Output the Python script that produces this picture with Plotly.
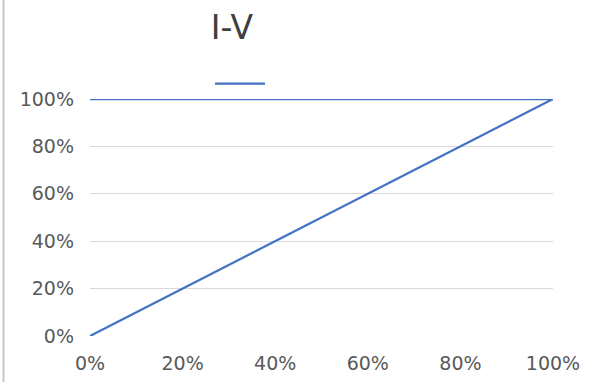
import plotly.graph_objects as go

# Data
x_vals = [0.0, 1.0, 0.0]
y_vals = [0.0, 1.0, 1.0]
series_name = " "
title_text = "I-V"
tick_vals = [0, 0.2, 0.4, 0.6, 0.8, 1.0]
tick_text = ["0%", "20%", "40%", "60%", "80%", "100%"]

W, H = 589, 382
ml, mr, mt, mb = 90, 36, 99, 46
pw, ph = W - ml - mr, H - mt - mb

fig = go.Figure()
fig.add_trace(go.Scatter(
    x=x_vals, y=y_vals, mode="lines", name=series_name,
    line=dict(color="#4472C4", width=2.25), showlegend=True,
))

font_family = "DejaVu Sans, sans-serif"
fig.update_layout(
    width=W, height=H, autosize=False,
    margin=dict(l=ml, r=mr, t=mt, b=mb, autoexpand=False),
    paper_bgcolor="white", plot_bgcolor="white",
    title=dict(text=title_text, x=232 / W, xanchor="center", y=1 - 27 / H, yanchor="middle",
               font=dict(family=font_family, size=33, color="#404040")),
    showlegend=True,
    legend=dict(orientation="h", x=(210 - ml) / pw, xanchor="left",
                y=1 + (99 - 84) / ph, yanchor="middle",
                itemwidth=50, bgcolor="rgba(0,0,0,0)",
                font=dict(family=font_family, size=14, color="#595959")),
    xaxis=dict(range=[0, 1], tickvals=tick_vals, ticktext=tick_text, showgrid=False,
               zeroline=False, showline=False, ticks="", ticklabelstandoff=14, automargin=False,
               tickfont=dict(family=font_family, size=19, color="#595959")),
    yaxis=dict(range=[0, 1], tickvals=tick_vals, ticktext=tick_text, showgrid=True,
               gridcolor="#D9D9D9", gridwidth=1, zeroline=False, showline=False, ticks="",
               ticklabelstandoff=15, automargin=False,
               tickfont=dict(family=font_family, size=19, color="#595959")),
    shapes=[dict(type="line", xref="paper", yref="paper", x0=-(ml - 3.5) / pw,
                 x1=-(ml - 3.5) / pw, y0=-mb / ph, y1=1 + mt / ph,
                 line=dict(color="#C8C8C8", width=2))],
)

fig.write_html("out.html", config={"displayModeBar": False},
               post_script="document.body.style.margin='0px';")
